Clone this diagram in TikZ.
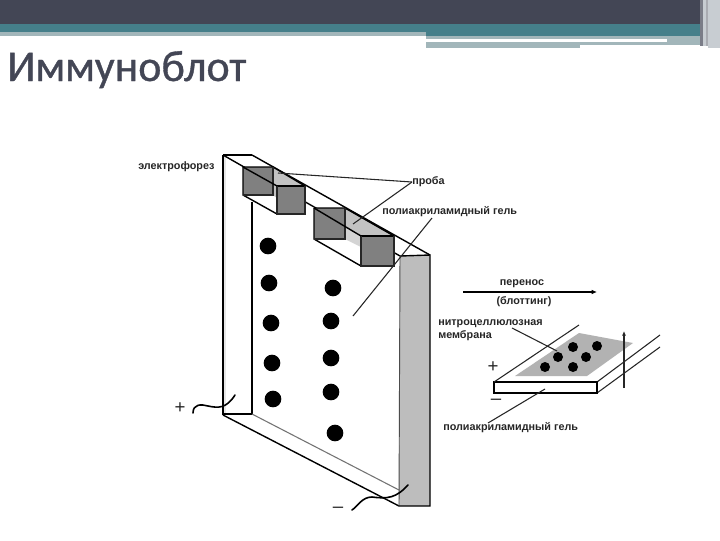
\documentclass[tikz,border=0pt]{standalone}
\usepackage{fontspec}
\usetikzlibrary{arrows.meta}
\setmainfont{Liberation Sans}
\newfontfamily\titlefont[RawFeature={embolden=0.8}]{Carlito}
\definecolor{hdark}{HTML}{434655}
\definecolor{hteal}{HTML}{457F8A}
\definecolor{hlight}{HTML}{A2B6BA}
\definecolor{hpale}{HTML}{C8CDD2}
\definecolor{wellA}{gray}{0.5}
\definecolor{wellB}{gray}{0.76}
\definecolor{panel}{gray}{0.74}
\definecolor{memb}{gray}{0.7}
\definecolor{ink}{gray}{0.15}
\tikzset{
  x=0.75pt,y=-0.75pt,
  lab/.style={font=\fontsize{8.1pt}{9.8pt}\selectfont\bfseries,text=ink,inner sep=0pt,align=left},
  sign/.style={font=\fontsize{14pt}{15pt}\selectfont,text=ink,inner sep=0pt},
  edge/.style={draw=black,line width=1.05pt,line join=miter},
  thin edge/.style={draw=black!85,line width=0.8pt},
  spot/.style={circle,fill=black,draw=none,inner sep=0pt,minimum size=12.5pt},
  smallspot/.style={circle,fill=black,draw=none,inner sep=0pt,minimum size=7.5pt},
  wire/.style={draw=black,line width=1.2pt,line cap=round},
}
\begin{document}
\begin{tikzpicture}
\useasboundingbox (0,0) rectangle (720,540);
% header
\fill[white] (0,0) rectangle (720,540);
\fill[hdark] (0,0) rectangle (700,24);
\fill[hteal] (0,24) rectangle (700,33);
\fill[hteal] (426,33) rectangle (700,36);
\fill[hlight] (0,32) rectangle (426,36);
\fill[hlight] (426,36) rectangle (700,39);
\fill[white] (426,39) rectangle (667,42);
\fill[hlight] (667,39) rectangle (705,45);
\fill[hlight] (426,42) rectangle (667,45);
\fill[hlight] (426,45) rectangle (580,48);
\fill[hdark!70!white] (700,0) rectangle (703,46);
\fill[hpale] (703,0) rectangle (706,46);
\fill[hdark!45!white] (706,0) rectangle (708,46);
\fill[hpale] (708,0) rectangle (720,48);
\node[font=\fontsize{33pt}{36pt}\selectfont\titlefont,text=hdark,anchor=base west,inner sep=0pt] (title) at (7,81) {Иммуноблот};

% gel sandwich
\fill[wellB!40!white] (223,155) -- (226,155) -- (226,415) -- (223,415) -- cycle;
\draw[edge] (223,155) -- (223,415);
\draw[edge] (252,202) -- (252,414) -- (223,414);
\draw[edge] (223,155) -- (252,155);
\draw[edge] (223,155) -- (400,256);
\draw[edge] (252,155) -- (430,255);
% bottom strip
\draw[draw=black!55,line width=0.8pt] (252,414) -- (399,490);
\draw[edge] (223,415) -- (399,506);
% right panel
\fill[panel] (400,256) -- (430,255) -- (430,506) -- (399,506) -- cycle;
\draw[draw=black!70,line width=0.7pt] (400,256) -- (399,506);
\draw[edge] (400,256) -- (430,255) -- (430,506) -- (399,506);

% well 1
\fill[white] (243,195) -- (277,214) -- (277,187) -- (243,167) -- cycle;
\fill[wellB] (273,167) -- (305,186) -- (277,186) -- (273,184) -- cycle;
\fill[wellB] (273,184) -- (277,186) -- (277,198) -- (273,195) -- cycle;
\fill[wellA] (243,167) rectangle (273,195);
\fill[wellA] (277,186) rectangle (305,214);
\draw[edge] (243,167) -- (273,167) -- (305,186);
\draw[edge] (243,167) -- (243,195) -- (277,214);
\draw[edge] (277,186) -- (305,186);
\draw[thin edge] (277,186) -- (277,214) -- (305,214) -- (305,186);
\draw[thin edge] (243,195) -- (273,195) -- (273,167);
\draw[edge] (243,167) -- (277,186);
% well 2
\fill[white] (314,239) -- (361,266) -- (361,236) -- (314,208) -- cycle;
\fill[wellB] (345,208) -- (394,236) -- (361,236) -- (345,226) -- cycle;
\fill[wellB!70!white] (345,226) -- (361,236) -- (361,247) -- (345,239) -- cycle;
\fill[wellA] (314,208) rectangle (345,239);
\fill[wellA] (361,236) rectangle (394,266);
\draw[edge] (314,208) -- (345,208) -- (394,236);
\draw[edge] (314,208) -- (314,239) -- (361,266);
\draw[edge] (361,236) -- (394,236);
\draw[thin edge] (361,236) -- (361,266) -- (394,266) -- (394,236);
\draw[thin edge] (314,239) -- (345,239) -- (345,208);
\draw[edge] (314,208) -- (361,236);

% spots
\node[spot] (a1) at (268,246) {};
\node[spot] (a2) at (269,283) {};
\node[spot] (a3) at (271,323) {};
\node[spot] (a4) at (272,363) {};
\node[spot] (a5) at (273,399) {};
\node[spot] (b1) at (333,288) {};
\node[spot] (b2) at (331,321) {};
\node[spot] (b3) at (331,358) {};
\node[spot] (b4) at (331,392) {};
\node[spot] (b5) at (335,433) {};

% labels, left
\node[lab,anchor=west] (elec) at (138,167) {электрофорез};
\node[lab,anchor=west] (proba) at (412,182) {проба};
\node[lab,anchor=west] (paag) at (382,212) {полиакриламидный гель};
\coordinate (p1) at (278,173);
\coordinate (p2) at (353,224);
\coordinate (g1) at (432,218);
\coordinate (g2) at (353,316);
\draw[thin edge] (proba.west) -- (p1);
\draw[thin edge] (proba.west) -- (p2);
\draw[thin edge] (g1) -- (g2);

% electrodes
\node[sign] (plus) at (180,408) {+};
\node[sign] (minus) at (338,510) {–};
\coordinate (w1) at (193,413);
\coordinate (w2) at (235,395);
\coordinate (w3) at (352,510);
\coordinate (w4) at (408,485);
\draw[wire] (w1) .. controls (193,404) and (201,404) .. (208,406) .. controls (218,408) and (226,409) .. (w2);
\draw[wire] (w3) .. controls (358,506) and (362,497) .. (372,497) .. controls (388,499) and (396,498) .. (w4);

% transfer
\node[lab,anchor=center] (pere) at (522,284) {перенос};
\node[lab,anchor=center] (blot) at (524,302) {(блоттинг)};
\coordinate (ar1) at (463,292);
\coordinate (ar2) at (597,292);
\draw[edge,-{Latex[length=4pt,width=3.5pt]}] (ar1) -- (ar2);

% membrane slab
\coordinate (s1) at (494,382);
\coordinate (s2) at (597,382);
\coordinate (s3) at (597,393);
\coordinate (sb) at (579,325);
\coordinate (sr1) at (660,335);
\coordinate (sr2) at (660,347);
\draw[thin edge] (s2) -- (sr1);
\draw[thin edge] (s3) -- (sr2);
\fill[memb] (515,376) -- (579,333) -- (633,343) -- (587,376) -- cycle;
\draw[edge,fill=white] (s1) rectangle (s3);
\draw[thin edge] (s1) -- (sb);
\node[smallspot] (c1) at (545,367) {};
\node[smallspot] (c2) at (558,357) {};
\node[smallspot] (c3) at (573,347) {};
\node[smallspot] (c4) at (597,346) {};
\node[smallspot] (c5) at (586,357) {};
\node[smallspot] (c6) at (573,367) {};
\coordinate (up1) at (624,388);
\coordinate (up2) at (624,331);
\draw[thin edge,-{Latex[length=3.5pt,width=3pt]}] (up1) -- (up2);
\node[lab,anchor=west] (nitro) at (438,330) {нитроцеллюлозная\\мембрана};
\coordinate (n1) at (512,328);
\coordinate (n2) at (557,351);
\draw[thin edge] (n1) -- (n2);
\node[sign] (sp) at (493,367) {+};
\node[sign] (sm) at (496,402) {–};
\node[lab,anchor=west] (paag2) at (443,428) {полиакриламидный гель};
\coordinate (q1) at (488,423);
\coordinate (q2) at (545,389);
\draw[thin edge] (q1) -- (q2);
\end{tikzpicture}
\end{document}
